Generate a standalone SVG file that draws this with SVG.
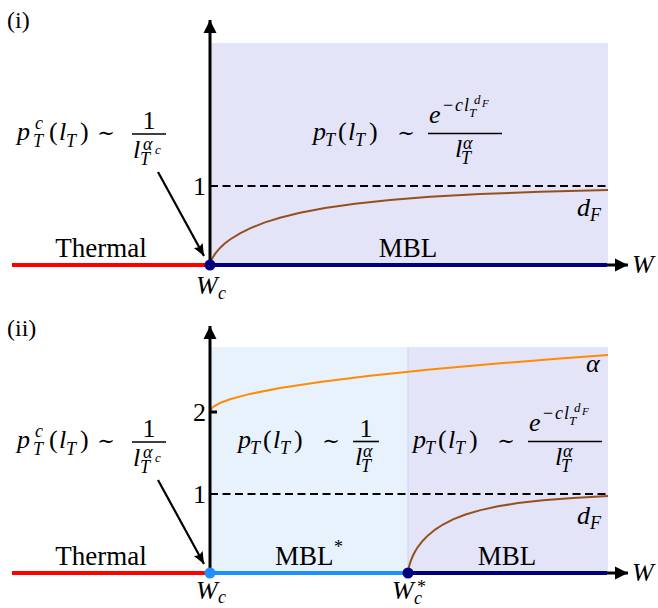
<svg xmlns="http://www.w3.org/2000/svg" width="658" height="608" viewBox="0 0 658 608">
<style>
text{font-family:"Liberation Serif","Times New Roman","DejaVu Serif",serif;font-size:26px;fill:#000}
.m{font-style:italic}
.s{font-size:18px}
.ss{font-size:13px}
.sss{font-size:11px}
.pl{font-size:24px}
.big{font-size:27px}
.sim{font-family:"DejaVu Serif",serif;font-size:21px;text-anchor:middle}
.c{text-anchor:middle}
.axis{stroke:#000;stroke-width:3;fill:none}
.bar{stroke:#000;stroke-width:1.6}
.dash{stroke:#000;stroke-width:1.8;stroke-dasharray:8 4.5;fill:none}
.red{stroke:#ff0000;stroke-width:4}
.navy{stroke:#00007f;stroke-width:4}
.lb{stroke:#1e90ff;stroke-width:4}
.brown{stroke:#96501e;stroke-width:2;fill:none}
.orange{stroke:#ff8c00;stroke-width:2;fill:none}
.ann{stroke:#000;stroke-width:2.2;fill:none}
</style>
<defs>
<marker id="ah" markerUnits="userSpaceOnUse" markerWidth="14" markerHeight="14" refX="13" refY="7" orient="auto">
<path d="M0,0.5 L13,7 L0,13.5 Z" fill="#000"/>
</marker>
<marker id="aa" markerUnits="userSpaceOnUse" markerWidth="14" markerHeight="12" refX="12" refY="6" orient="auto">
<path d="M0,1 L12,6 L0,11 L2,6 Z" fill="#000"/>
</marker>
</defs>

<!-- Panel (i) -->
<g id="panel-i-bg">
<rect x="210" y="43" width="398" height="222" fill="#e4e4f8"/>
</g>
<text class="pl" x="7" y="28">(i)</text>

<g id="connectors-i">
<line class="dash" x1="210" y1="186" x2="608" y2="186"/>
<polyline class="brown" points="210,265 212,258.8 215,253.9 220,247.9 225,243.3 230,239.5 240,233.3 250,228.3 265,222.4 280,217.7 300,212.7 325,208 355,203.7 390,199.9 430,196.8 480,194 540,191.8 608,190"/>
<line class="axis" x1="210" y1="266" x2="210" y2="20" marker-end="url(#ah)"/>
<line class="axis" x1="604" y1="265" x2="628" y2="265" marker-end="url(#ah)"/>
<line class="red" x1="12" y1="265" x2="210" y2="265"/>
<line class="navy" x1="210" y1="265" x2="607" y2="265"/>
<line class="ann" x1="158" y1="172" x2="204" y2="256" marker-end="url(#aa)"/>
</g>

<g id="node-Wc-i">
<circle cx="210" cy="265" r="5.5" fill="#00007f"/>
<text class="m" x="196" y="294">W</text><text class="m s" x="218" y="299">c</text>
</g>
<g id="label-thermal-i"><text x="101" y="257" class="c big">Thermal</text></g>
<g id="label-mbl-i"><text x="408" y="257" class="c big">MBL</text></g>
<g id="label-W-i"><text class="m" x="632" y="273">W</text></g>
<g id="tick-1-i"><text x="193" y="195">1</text></g>
<g id="label-dF-i"><text class="m" x="577" y="216">d</text><text class="m s" x="590" y="221">F</text></g>

<g id="formula-c-i">
<text class="m" x="17" y="140">p</text>
<text class="m s" x="35" y="129">c</text>
<text class="m s" x="33" y="147">T</text>
<text x="49" y="140">(</text>
<text class="m" x="59" y="140">l</text>
<text class="m s" x="66" y="147">T</text>
<text x="80" y="140">)</text>
<text class="sim" x="106" y="140">∼</text>
<text class="c" x="149" y="129">1</text>
<line class="bar" x1="132" y1="134" x2="166" y2="134"/>
<text class="m" x="133" y="158">l</text>
<text class="m s" x="140" y="165">T</text>
<text class="m s" x="143" y="150">α</text>
<text class="m ss" x="155" y="154">c</text>
</g>

<g id="formula-mbl-i">
<text class="m" x="313" y="140">p</text>
<text class="m s" x="325" y="146">T</text>
<text x="338" y="140">(</text>
<text class="m" x="348" y="140">l</text>
<text class="m s" x="355" y="146">T</text>
<text x="369" y="140">)</text>
<text class="sim" x="406" y="140">∼</text>
<text class="m" x="429" y="123">e</text>
<text class="s" x="443" y="111">−</text>
<text class="m s" x="455" y="111">c</text>
<text class="m s" x="464" y="111">l</text>
<text class="m ss" x="469" y="117">T</text>
<text class="m ss" x="474" y="104">d</text>
<text class="m sss" x="482" y="107">F</text>
<line class="bar" x1="428" y1="133.5" x2="502" y2="133.5"/>
<text class="m" x="455" y="157">l</text>
<text class="m s" x="461" y="164">T</text>
<text class="m s" x="463" y="149">α</text>
</g>

<!-- Panel (ii) -->
<g id="panel-ii-bg">
<rect x="210" y="347" width="198" height="226" fill="#e7f2fd"/>
<rect x="408" y="347" width="200" height="226" fill="#e4e4f8"/>
<line x1="408" y1="347" x2="408" y2="573" stroke="#cdd3f3" stroke-width="1"/>
</g>
<text class="pl" x="7" y="336">(ii)</text>

<g id="connectors-ii">
<line class="dash" x1="210" y1="494" x2="608" y2="494"/>
<polyline class="orange" points="210,412 211,409.1 214,406.3 220,403 230,399.2 250,393.9 280,388.1 320,382 370,375.8 430,369.6 500,363.3 560,358.5 608,354.9"/>
<polyline class="brown" points="408,573 409,566.7 410.5,561.6 413,555.5 415.5,550.8 418,546.8 423,540.5 428,535.4 435.5,529.3 443,524.5 453,519.4 465.5,514.5 480.5,510.1 498,506.3 518,503.1 543,500.2 573,497.9 608,496.1"/>
<line class="axis" x1="210" y1="574" x2="210" y2="326" marker-end="url(#ah)"/>
<line class="axis" x1="210" y1="412" x2="217" y2="412"/>
<line class="axis" x1="604" y1="573" x2="628" y2="573" marker-end="url(#ah)"/>
<line class="red" x1="12" y1="573" x2="210" y2="573"/>
<line class="lb" x1="210" y1="573" x2="408" y2="573"/>
<line class="navy" x1="408" y1="573" x2="607" y2="573"/>
<line class="ann" x1="158" y1="480" x2="204" y2="564" marker-end="url(#aa)"/>
</g>

<g id="node-Wc-ii">
<circle cx="210" cy="573" r="5.5" fill="#1e90ff"/>
<text class="m" x="196" y="599">W</text><text class="m s" x="218" y="603">c</text>
</g>
<g id="node-Wcstar-ii">
<circle cx="408" cy="573" r="5.5" fill="#00007f"/>
<text class="m" x="392" y="599">W</text><text class="m s" x="414" y="604">c</text><text class="s" x="417" y="593">*</text>
</g>
<g id="label-thermal-ii"><text x="101" y="565" class="c big">Thermal</text></g>
<g id="label-mblstar-ii"><text class="big" x="275" y="565">MBL</text><text class="s" x="334" y="553">*</text></g>
<g id="label-mbl-ii"><text x="507" y="565" class="c big">MBL</text></g>
<g id="label-W-ii"><text class="m" x="632" y="581">W</text></g>
<g id="tick-1-ii"><text x="193" y="503">1</text></g>
<g id="tick-2-ii"><text x="193" y="421">2</text></g>
<g id="label-alpha-ii"><text class="m" x="586" y="372">α</text></g>
<g id="label-dF-ii"><text class="m" x="577" y="524">d</text><text class="m s" x="590" y="529">F</text></g>

<g id="formula-c-ii" transform="translate(0,308)">
<text class="m" x="17" y="140">p</text>
<text class="m s" x="35" y="129">c</text>
<text class="m s" x="33" y="147">T</text>
<text x="49" y="140">(</text>
<text class="m" x="59" y="140">l</text>
<text class="m s" x="66" y="147">T</text>
<text x="80" y="140">)</text>
<text class="sim" x="106" y="140">∼</text>
<text class="c" x="149" y="129">1</text>
<line class="bar" x1="132" y1="134" x2="166" y2="134"/>
<text class="m" x="133" y="158">l</text>
<text class="m s" x="140" y="165">T</text>
<text class="m s" x="143" y="150">α</text>
<text class="m ss" x="155" y="154">c</text>
</g>

<g id="formula-mblstar-ii" transform="translate(-75,308)">
<text class="m" x="313" y="140">p</text>
<text class="m s" x="325" y="146">T</text>
<text x="338" y="140">(</text>
<text class="m" x="348" y="140">l</text>
<text class="m s" x="355" y="146">T</text>
<text x="369" y="140">)</text>
<text class="sim" x="406" y="140">∼</text>
<text class="c" x="441" y="129">1</text>
<line class="bar" x1="428" y1="133.5" x2="454" y2="133.5"/>
<text class="m" x="430" y="157">l</text>
<text class="m s" x="436" y="164">T</text>
<text class="m s" x="438" y="149">α</text>
</g>

<g id="formula-mbl-ii" transform="translate(100,308)">
<text class="m" x="313" y="140">p</text>
<text class="m s" x="325" y="146">T</text>
<text x="338" y="140">(</text>
<text class="m" x="348" y="140">l</text>
<text class="m s" x="355" y="146">T</text>
<text x="369" y="140">)</text>
<text class="sim" x="406" y="140">∼</text>
<text class="m" x="429" y="123">e</text>
<text class="s" x="443" y="111">−</text>
<text class="m s" x="455" y="111">c</text>
<text class="m s" x="464" y="111">l</text>
<text class="m ss" x="469" y="117">T</text>
<text class="m ss" x="474" y="104">d</text>
<text class="m sss" x="482" y="107">F</text>
<line class="bar" x1="428" y1="133.5" x2="502" y2="133.5"/>
<text class="m" x="455" y="157">l</text>
<text class="m s" x="461" y="164">T</text>
<text class="m s" x="463" y="149">α</text>
</g>
</svg>
